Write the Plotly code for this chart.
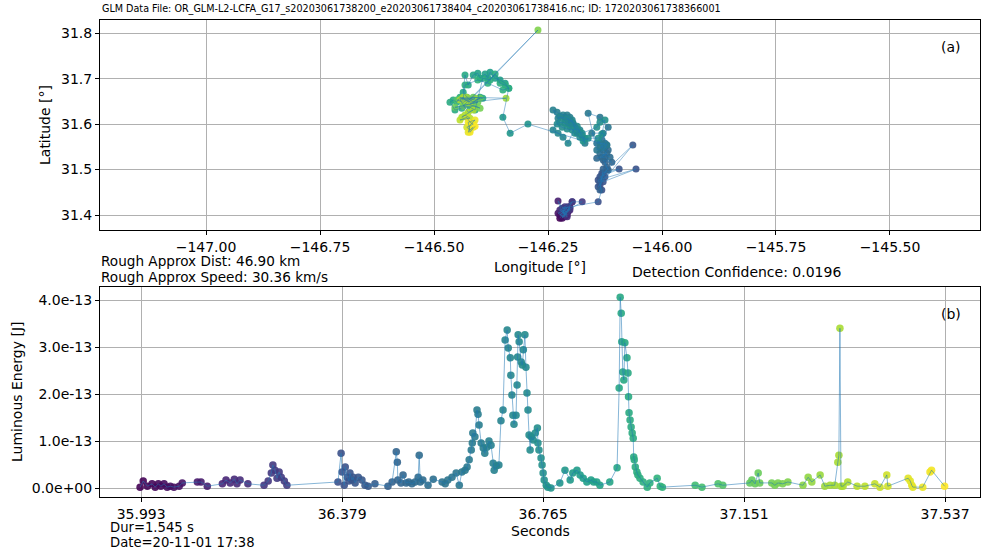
import plotly.graph_objects as go

# ---------------- data ----------------
time_s = [
    35.991, 35.997, 36.005, 36.014, 36.020, 36.026, 36.031, 36.037, 36.043, 36.049,
    36.056, 36.066, 36.072, 36.101, 36.108, 36.120, 36.149, 36.156, 36.164, 36.172,
    36.177, 36.183, 36.198, 36.229, 36.237, 36.243, 36.246, 36.250, 36.254, 36.258,
    36.262, 36.268, 36.273,
    36.371, 36.377, 36.379, 36.383, 36.385, 36.389, 36.392, 36.394, 36.398, 36.400,
    36.404, 36.410, 36.417, 36.423, 36.429, 36.442, 36.467, 36.475, 36.483, 36.485,
    36.486, 36.492, 36.496, 36.502, 36.507, 36.513, 36.519, 36.525, 36.527, 36.529,
    36.534, 36.544, 36.554, 36.571, 36.577, 36.582, 36.590, 36.598, 36.604, 36.609,
    36.615, 36.619, 36.623, 36.627, 36.629, 36.630, 36.634, 36.638, 36.640, 36.642,
    36.646, 36.650, 36.653, 36.657, 36.661, 36.665, 36.669, 36.671, 36.675, 36.680,
    36.684, 36.688, 36.692, 36.696, 36.698, 36.702, 36.703, 36.705, 36.707, 36.709,
    36.713, 36.715, 36.716, 36.717, 36.719, 36.723, 36.725, 36.727, 36.730, 36.732,
    36.734, 36.736, 36.738, 36.740, 36.742, 36.746, 36.750, 36.754, 36.755, 36.757,
    36.761, 36.763, 36.765, 36.767, 36.771, 36.774, 36.780,
    36.797, 36.807, 36.817, 36.822, 36.830, 36.836, 36.842, 36.849, 36.857, 36.862,
    36.868, 36.874, 36.893, 36.907, 36.911, 36.913, 36.915, 36.916, 36.918, 36.920,
    36.922, 36.926, 36.928, 36.929, 36.930, 36.932, 36.934, 36.936, 36.938, 36.939,
    36.940, 36.942, 36.945, 36.947, 36.951, 36.957, 36.965, 36.970, 36.984, 36.990,
    36.994,
    37.057, 37.070, 37.101, 37.110, 37.162, 37.166, 37.172, 37.178, 37.181, 37.204,
    37.210, 37.216, 37.225, 37.235, 37.264, 37.274, 37.281, 37.297, 37.306, 37.316,
    37.325, 37.331, 37.333, 37.335, 37.337, 37.341, 37.350, 37.368, 37.383, 37.402,
    37.412, 37.425, 37.427, 37.466, 37.470, 37.473, 37.475, 37.494, 37.508, 37.511,
    37.536,
]

# luminous energy in units of 1e-13 J
energy_e13 = [
    0.02, 0.15, 0.04, 0.09, 0.02, 0.09, 0.04, 0.09, 0.02, 0.04,
    0.02, 0.04, 0.11, 0.13, 0.13, 0.04, 0.09, 0.17, 0.11, 0.19,
    0.09, 0.17, 0.09, 0.06, 0.15, 0.32, 0.49, 0.38, 0.21, 0.34,
    0.23, 0.15, 0.06,
    0.13, 0.74, 0.34, 0.06, 0.45, 0.23, 0.15, 0.32, 0.17, 0.23,
    0.11, 0.23, 0.17, 0.06, 0.04, 0.09, 0.04, 0.13, 0.77, 0.55,
    0.17, 0.11, 0.28, 0.11, 0.13, 0.09, 0.13, 0.23, 0.70, 0.13,
    0.17, 0.06, 0.19, 0.13, 0.09, 0.17, 0.23, 0.32, 0.06, 0.34,
    0.38, 0.45, 0.60, 0.81, 0.96, 1.17, 1.09, 1.66, 1.57, 1.34,
    0.96, 0.85, 0.74, 0.87, 1.00, 0.91, 0.53, 0.38, 0.47, 0.49,
    1.43, 1.66, 3.15, 3.36, 2.98, 2.77, 2.40, 1.98, 1.55, 1.36,
    1.55, 2.19, 2.79, 3.26, 3.11, 2.68, 2.62, 2.94, 3.26, 2.57,
    2.02, 1.66, 1.13, 0.81, 1.09, 1.02, 1.17, 1.28, 0.96, 0.81,
    0.64, 0.49, 0.32, 0.17, 0.06, 0.02, 0.00,
    0.11, 0.38, 0.17, 0.32, 0.38, 0.28, 0.21, 0.13, 0.17, 0.13,
    0.13, 0.06, 0.13, 0.43, 2.13, 4.06, 3.72, 3.11, 2.47, 2.30,
    3.09, 2.77, 2.45, 1.94, 1.60, 1.45, 1.30, 1.17, 1.06, 0.66,
    0.60, 0.45, 0.34, 0.28, 0.21, 0.13, 0.02, 0.11, 0.21, 0.04,
    0.02,
    0.06, 0.02, 0.09, 0.06, 0.11, 0.17, 0.09, 0.32, 0.11, 0.11,
    0.06, 0.11, 0.09, 0.13, 0.06, 0.23, 0.13, 0.28, 0.04, 0.06,
    0.06, 0.55, 0.70, 3.40, 0.04, 0.04, 0.13, 0.04, 0.04, 0.09,
    0.02, 0.28, 0.04, 0.21, 0.15, 0.06, 0.02, 0.02, 0.34, 0.38,
    0.04,
]

lon_deg = [
    -146.224, -146.219, -146.213, -146.217, -146.208, -146.224, -146.213, -146.219, -146.206, -146.202,
    -146.217, -146.228, -146.213, -146.208, -146.219, -146.228, -146.217, -146.202, -146.213, -146.208,
    -146.224, -146.206, -146.197, -146.213, -146.219, -146.208, -146.202, -146.213, -146.217, -146.206,
    -146.175, -146.197, -146.219,
    -146.140, -146.132, -146.136, -146.140, -146.057, -146.129, -146.136, -146.094, -146.132, -146.125,
    -146.140, -146.064, -146.129, -146.136, -146.121, -146.132, -146.136, -146.129, -146.121, -146.125,
    -146.118, -146.129, -146.110, -146.125, -146.143, -146.121, -146.132, -146.118, -146.125, -146.136,
    -146.114, -146.129, -146.121, -146.136, -146.125, -146.143, -146.132, -146.118, -146.136, -146.162,
    -146.143, -146.129, -146.154, -146.129, -146.121, -146.136, -146.173, -146.169, -146.180, -146.186,
    -146.195, -146.202, -146.208, -146.217, -146.230, -146.239, -146.228, -146.213, -146.202, -146.195,
    -146.191, -146.186, -146.180, -146.197, -146.206, -146.213, -146.224, -146.239, -146.228, -146.217,
    -146.206, -146.191, -146.202, -146.208, -146.197, -146.186, -146.180, -146.175, -146.169, -146.180,
    -146.191, -146.202, -146.213, -146.224, -146.230, -146.219, -146.208, -146.197, -146.186, -146.175,
    -146.143, -146.136, -146.125, -146.132, -146.140, -146.162, -146.173,
    -146.294, -146.333, -146.349, -146.336, -146.344, -146.355, -146.366, -146.377, -146.382, -146.388,
    -146.399, -146.404, -146.414, -146.425, -146.432, -146.436, -146.428, -146.421, -146.414, -146.399,
    -146.393, -146.410, -146.443, -146.450, -146.458, -146.465, -146.454, -146.439, -146.421, -146.410,
    -146.393, -146.377, -146.366, -146.355, -146.344, -146.336, -146.349, -146.382, -146.404, -146.432,
    -146.436,
    -146.443, -146.425, -146.450, -146.436, -146.414, -146.399, -146.421, -146.404, -146.454, -146.410,
    -146.399, -146.425, -146.436, -146.272, -146.425, -146.410, -146.439, -146.428, -146.342, -146.421,
    -146.432, -146.436, -146.443, -146.425, -146.414, -146.439, -146.432, -146.421, -146.443, -146.428,
    -146.421, -146.414, -146.428, -146.421, -146.414, -146.425, -146.421, -146.410, -146.425, -146.421,
    -146.410,
]

lat_deg = [
    31.393, 31.400, 31.396, 31.411, 31.415, 31.400, 31.407, 31.393, 31.407, 31.418,
    31.396, 31.404, 31.411, 31.400, 31.407, 31.431, 31.415, 31.411, 31.404, 31.396,
    31.411, 31.418, 31.429, 31.400, 31.411, 31.407, 31.415, 31.418, 31.404, 31.411,
    31.429, 31.429, 31.415,
    31.429, 31.455, 31.466, 31.477, 31.501, 31.473, 31.484, 31.501, 31.492, 31.484,
    31.462, 31.554, 31.492, 31.473, 31.499, 31.484, 31.455, 31.501, 31.505, 31.516,
    31.499, 31.521, 31.516, 31.527, 31.525, 31.536, 31.527, 31.543, 31.549, 31.536,
    31.527, 31.543, 31.554, 31.549, 31.558, 31.558, 31.565, 31.593, 31.615, 31.624,
    31.543, 31.549, 31.580, 31.580, 31.554, 31.558, 31.569, 31.558, 31.580, 31.587,
    31.602, 31.615, 31.620, 31.620, 31.626, 31.631, 31.613, 31.615, 31.609, 31.600,
    31.593, 31.580, 31.587, 31.609, 31.602, 31.609, 31.617, 31.587, 31.580, 31.571,
    31.558, 31.593, 31.600, 31.613, 31.604, 31.595, 31.582, 31.575, 31.569, 31.571,
    31.580, 31.595, 31.602, 31.604, 31.600, 31.593, 31.589, 31.587, 31.589, 31.580,
    31.593, 31.604, 31.609, 31.578, 31.569, 31.569, 31.563,
    31.600, 31.580, 31.615, 31.679, 31.690, 31.697, 31.701, 31.714, 31.701, 31.710,
    31.701, 31.712, 31.708, 31.686, 31.708, 31.670, 31.659, 31.653, 31.648, 31.659,
    31.657, 31.653, 31.659, 31.648, 31.653, 31.648, 31.631, 31.635, 31.637, 31.631,
    31.701, 31.697, 31.710, 31.690, 31.686, 31.679, 31.675, 31.690, 31.697, 31.686,
    31.657,
    31.657, 31.653, 31.653, 31.648, 31.659, 31.657, 31.644, 31.648, 31.637, 31.640,
    31.635, 31.644, 31.640, 31.807, 31.648, 31.657, 31.655, 31.659, 31.657, 31.648,
    31.653, 31.659, 31.653, 31.626, 31.631, 31.615, 31.620, 31.613, 31.609, 31.615,
    31.604, 31.600, 31.593, 31.587, 31.593, 31.582, 31.598, 31.609, 31.604, 31.582,
    31.595,
]

lon_ticks = [-147.00, -146.75, -146.50, -146.25, -146.00, -145.75, -145.50]
lat_ticks = [31.4, 31.5, 31.6, 31.7, 31.8]
sec_ticks = [35.993, 36.379, 36.765, 37.151, 37.537]
energy_ticks_e13 = [0, 1, 2, 3, 4]

title_text = ("GLM Data File: OR_GLM-L2-LCFA_G17_s20203061738200_e20203061738404_"
              "c20203061738416.nc; ID: 1720203061738366001")

# ---------------- figure ----------------
W, H = 981, 551
n = min(len(time_s), len(energy_e13), len(lon_deg), len(lat_deg))
time_s, energy_e13, lon_deg, lat_deg = time_s[:n], energy_e13[:n], lon_deg[:n], lat_deg[:n]
energy_j = [e * 1e-13 for e in energy_e13]
tmin, tmax = min(time_s), max(time_s)

FONT = "DejaVu Sans"
FS = 14
LINE_COL = "rgba(31,119,180,0.6)"

fig = go.Figure()

mk = dict(color=time_s, colorscale="Viridis", cmin=tmin, cmax=tmax, opacity=0.9,
          line=dict(width=0))

fig.add_trace(go.Scatter(x=lon_deg, y=lat_deg, mode="markers",
                         marker=dict(size=7, **mk), xaxis="x", yaxis="y",
                         showlegend=False, hoverinfo="skip"))
fig.add_trace(go.Scatter(x=lon_deg, y=lat_deg, mode="lines",
                         line=dict(color=LINE_COL, width=0.8), xaxis="x", yaxis="y",
                         showlegend=False, hoverinfo="skip"))
fig.add_trace(go.Scatter(x=time_s, y=energy_j, mode="markers",
                         marker=dict(size=7.5, **mk), xaxis="x2", yaxis="y2",
                         showlegend=False, hoverinfo="skip"))
fig.add_trace(go.Scatter(x=time_s, y=energy_j, mode="lines",
                         line=dict(color=LINE_COL, width=0.9), xaxis="x2", yaxis="y2",
                         showlegend=False, hoverinfo="skip"))


def fx(p):
    return p / W


def fy(p):
    return 1 - p / H


axis_common = dict(showline=True, mirror=True, linecolor="black", linewidth=1,
                   ticks="outside", ticklen=4, tickcolor="black", tickwidth=1,
                   showgrid=True, gridcolor="#b0b0b0", gridwidth=1, zeroline=False,
                   tickfont=dict(family=FONT, size=FS, color="black"), fixedrange=True)

def fmt_lon(v):
    s = f"{abs(v):.2f}"
    return ("\u2212" + s) if v < 0 else s

fig.update_layout(
    width=W, height=H, margin=dict(l=0, r=0, t=0, b=0),
    paper_bgcolor="white", plot_bgcolor="white",
    font=dict(family=FONT, size=FS, color="black"),
    xaxis=dict(domain=[fx(100), fx(980)], range=[-147.2325, -145.3026],
               tickvals=lon_ticks, ticktext=[fmt_lon(v) for v in lon_ticks],
               anchor="y", **axis_common),
    yaxis=dict(domain=[fy(230), fy(20)], range=[31.367, 31.829],
               tickvals=lat_ticks, ticktext=[f"{v:.1f}" for v in lat_ticks],
               anchor="x", **axis_common),
    xaxis2=dict(domain=[fx(100), fx(980)], range=[35.914, 37.604],
                tickvals=sec_ticks, ticktext=[f"{v:.3f}" for v in sec_ticks],
                anchor="y2", **axis_common),
    yaxis2=dict(domain=[fy(497), fy(287)], range=[-0.19e-13, 4.277e-13],
                tickvals=[v * 1e-13 for v in energy_ticks_e13],
                ticktext=["0.0e+00", "1.0e-13", "2.0e-13", "3.0e-13", "4.0e-13"],
                anchor="x2", **axis_common),
)

ann = []

def text(x, y, s, size=FS, xanchor="left", yanchor="middle", angle=0):
    ann.append(dict(x=fx(x), y=fy(y), xref="paper", yref="paper", text=s,
                    showarrow=False, xanchor=xanchor, yanchor=yanchor,
                    textangle=angle, borderpad=0,
                    font=dict(family=FONT, size=size, color="black")))

text(101, 9, title_text, size=9.6)
text(951, 47, "(a)", xanchor="center")
text(951, 314, "(b)", xanchor="center")
text(540, 267, "Longitude [°]", xanchor="center")
text(45, 125, "Latitude [°]", xanchor="center", angle=-90)
text(540, 531, "Seconds", xanchor="center")
text(17, 392, "Luminous Energy [J]", xanchor="center", angle=-90)
text(100, 260.5, "Rough Approx Dist: 46.90 km", size=13.6)
text(100, 276.5, "Rough Approx Speed: 30.36 km/s", size=13.6)
text(631, 272, "Detection Confidence: 0.0196")
text(109, 527, "Dur=1.545 s", size=13.2)
text(109, 542.5, "Date=20-11-01 17:38", size=13.2)

fig.update_layout(annotations=ann)

fig.write_html("out.html")
